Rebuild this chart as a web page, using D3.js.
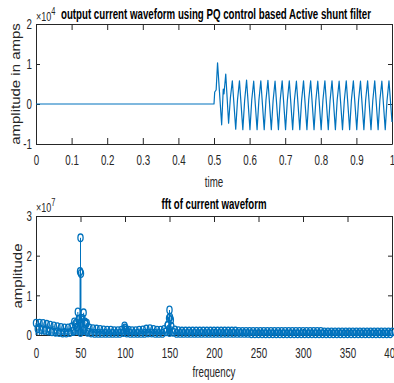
<!DOCTYPE html>
<html>
<head>
<meta charset="utf-8">
<script src="https://cdn.jsdelivr.net/npm/d3@7/dist/d3.min.js"></script>
<style>
  body { margin: 0; background: #fff; }
  text { font-family: "Liberation Sans", Arial, sans-serif; }
</style>
</head>
<body>
<div id="chart"></div>
<script>
// ---- top plot: output current (x 1e4 A) vs time ----
const waveTime = [0, 0.5, 0.502, 0.506, 0.510, 0.515, 0.5215, 0.526, 0.528, 0.533, 0.541, 0.546, 0.5515,
  0.561, 0.566, 0.5715, 0.581, 0.586, 0.5915, 0.601, 0.606, 0.6115, 0.621, 0.626, 0.6315,
  0.641, 0.646, 0.6515, 0.661, 0.666, 0.6715, 0.681, 0.686, 0.6915, 0.701, 0.706, 0.7115,
  0.721, 0.726, 0.7315, 0.741, 0.746, 0.7515, 0.761, 0.766, 0.7715, 0.781, 0.786, 0.7915,
  0.801, 0.806, 0.8115, 0.821, 0.826, 0.8315, 0.841, 0.846, 0.8515, 0.861, 0.866, 0.8715,
  0.881, 0.886, 0.8915, 0.901, 0.906, 0.9115, 0.921, 0.926, 0.9315, 0.941, 0.946, 0.9515,
  0.961, 0.966, 0.9715, 0.981, 0.986, 0.9915, 1.0];
const waveAmp = [0, 0, 0.30, 0.35, 1.03, 0.35, -0.52, 0.37, 0.25, 0.75, -0.48, 0.15, 0.58,
  -0.63, 0.10, 0.58, -0.64, 0.08, 0.60, -0.64, 0.10, 0.57, -0.64, 0.08, 0.58,
  -0.64, 0.10, 0.59, -0.64, 0.08, 0.57, -0.64, 0.10, 0.58, -0.64, 0.08, 0.58,
  -0.64, 0.10, 0.57, -0.64, 0.08, 0.58, -0.64, 0.10, 0.58, -0.64, 0.08, 0.57,
  -0.64, 0.10, 0.58, -0.64, 0.08, 0.58, -0.64, 0.10, 0.57, -0.64, 0.08, 0.58,
  -0.64, 0.10, 0.58, -0.64, 0.08, 0.57, -0.64, 0.10, 0.58, -0.64, 0.08, 0.58,
  -0.64, 0.10, 0.57, -0.64, 0.08, 0.58, -0.45];
const timeTicks = [0, 0.1, 0.2, 0.3, 0.4, 0.5, 0.6, 0.7, 0.8, 0.9, 1];
const currentTicks = [-1, 0, 1, 2];

// ---- bottom plot: fft amplitude (x 1e7) ----
const fftFreq = [0, 4, 8, 12, 16, 20, 24, 28, 32, 36,
  40, 44, 48, 52, 56, 60, 64, 68, 72, 76,
  80, 84, 88, 92, 96, 100, 104, 108, 112, 116,
  120, 124, 128, 132, 136, 140, 144, 148, 152, 156,
  160, 164, 168, 172, 176, 180, 184, 188, 192, 196,
  200, 204, 208, 212, 216, 220, 224, 228, 232, 236,
  240, 244, 248, 252, 256, 260, 264, 268, 272, 276,
  280, 284, 288, 292, 296, 300, 304, 308, 312, 316,
  320, 324, 328, 332, 336, 340, 344, 348, 352, 356,
  360, 364, 368, 372, 376, 380, 384, 388, 392, 396, 400];
const fftAmp = [0.30, 0.30, 0.29, 0.27, 0.25, 0.23, 0.21, 0.19, 0.18, 0.18,
  0.20, 0.26, 0.40, 0.42, 0.27, 0.18, 0.16, 0.15, 0.14, 0.13,
  0.12, 0.12, 0.11, 0.11, 0.12, 0.18, 0.12, 0.11, 0.11, 0.12,
  0.13, 0.15, 0.16, 0.14, 0.12, 0.12, 0.14, 0.24, 0.22, 0.13,
  0.11, 0.10, 0.10, 0.10, 0.10, 0.10, 0.10, 0.10, 0.10, 0.10,
  0.10, 0.10, 0.10, 0.10, 0.10, 0.10, 0.10, 0.09, 0.09, 0.09,
  0.09, 0.09, 0.09, 0.09, 0.09, 0.09, 0.09, 0.09, 0.09, 0.09,
  0.09, 0.09, 0.09, 0.09, 0.09, 0.09, 0.09, 0.09, 0.09, 0.09,
  0.09, 0.08, 0.08, 0.08, 0.08, 0.08, 0.08, 0.08, 0.08, 0.08,
  0.08, 0.08, 0.08, 0.08, 0.08, 0.08, 0.08, 0.08, 0.08, 0.08, 0.08];
// in-between bins (lower leakage values)
const fftMidFreq = [2, 6, 10, 14, 18, 22, 26, 30, 34, 38,
  42, 46, 50, 54, 58, 62, 66, 70, 74, 78,
  82, 86, 90, 94, 98, 102, 106, 110, 114, 118,
  122, 126, 130, 134, 138, 142, 146, 150, 154, 158,
  162, 166, 170, 174, 178, 182, 186, 190, 194, 198,
  202, 206, 210, 214, 218, 222, 226, 230, 234, 238,
  242, 246, 250, 254, 258, 262, 266, 270, 274, 278,
  282, 286, 290, 294, 298, 302, 306, 310, 314, 318,
  322, 326, 330, 334, 338, 342, 346, 350, 354, 358,
  362, 366, 370, 374, 378, 382, 386, 390, 394, 398];
const fftMidAmp = [0.16, 0.14, 0.12, 0.10, 0.08, 0.07, 0.06, 0.05, 0.05, 0.06,
  0.09, 0.20, 0.06, 0.14, 0.07, 0.05, 0.04, 0.04, 0.04, 0.04,
  0.04, 0.04, 0.04, 0.04, 0.06, 0.05, 0.04, 0.04, 0.04, 0.04,
  0.04, 0.05, 0.05, 0.04, 0.04, 0.04, 0.08, 0.06, 0.07, 0.04,
  0.04, 0.04, 0.04, 0.04, 0.04, 0.04, 0.04, 0.04, 0.04, 0.04,
  0.04, 0.04, 0.04, 0.04, 0.04, 0.04, 0.04, 0.04, 0.04, 0.04,
  0.03, 0.03, 0.03, 0.03, 0.03, 0.03, 0.03, 0.03, 0.03, 0.03,
  0.03, 0.03, 0.03, 0.03, 0.03, 0.03, 0.03, 0.03, 0.03, 0.03,
  0.03, 0.03, 0.03, 0.03, 0.03, 0.03, 0.03, 0.03, 0.03, 0.03,
  0.03, 0.03, 0.03, 0.03, 0.03, 0.03, 0.03, 0.03, 0.03, 0.03];
// harmonic peaks around 50, 100, 150 Hz
const peakFreq = [43, 45, 47, 48.5, 49.5, 50, 50.5, 51.5, 53.5, 55, 57, 99.5, 100.5, 101.5, 148, 149.5, 150, 150.5, 151.5];
const peakAmp = [0.33, 0.30, 0.58, 0.40, 1.60, 2.45, 1.55, 0.42, 0.56, 0.33, 0.30, 0.23, 0.16, 0.12, 0.25, 0.42, 0.63, 0.45, 0.38];
const freqTicks = [0, 50, 100, 150, 200, 250, 300, 350, 400];
const fftTicks = [0, 1, 2, 3];

const blue = '#0072BD';
const axisColor = '#262626';
const sx = 0.65;  // horizontal squeeze of the original figure

const svg = d3.select('#chart').append('svg')
  .attr('width', 394)
  .attr('height', 383)
  .style('background', '#fff');

function squeeze(sel, x, y, s) {
  sel.attr('transform', `translate(${x},${y}) scale(${s || sx},1)`);
}

// matlab style box with inward ticks on all four sides
function drawBox(x, y, xTicks, yTicks, padBottom) {
  const [x0, x1] = x.range();
  const [y0, y1] = y.range();

  const gb = svg.append('g')
    .attr('transform', `translate(0,${y0})`)
    .call(d3.axisBottom(x).tickValues(xTicks).tickFormat(String)
      .tickSizeInner(-6).tickSizeOuter(0).tickPadding(padBottom));
  gb.selectAll('text').attr('transform', `scale(${sx},1)`);

  svg.append('g')
    .attr('transform', `translate(0,${y1})`)
    .call(d3.axisTop(x).tickValues(xTicks).tickFormat('')
      .tickSizeInner(-6).tickSizeOuter(0));

  const gl = svg.append('g')
    .attr('transform', `translate(${x0},0)`)
    .call(d3.axisLeft(y).tickValues(yTicks).tickFormat(String)
      .tickSizeInner(-4).tickSizeOuter(0).tickPadding(4));
  gl.selectAll('text')
    .attr('x', -4 / sx)
    .attr('transform', `scale(${sx},1)`);

  svg.append('g')
    .attr('transform', `translate(${x1},0)`)
    .call(d3.axisRight(y).tickValues(yTicks).tickFormat('')
      .tickSizeInner(-4).tickSizeOuter(0));

  svg.selectAll('.domain').attr('stroke', axisColor);
  svg.selectAll('.tick line').attr('stroke', axisColor);
  svg.selectAll('.tick text')
    .attr('fill', axisColor)
    .style('font-size', '15px')
    .style('font-family', '"Liberation Sans", Arial, sans-serif');
}

function exponent(xPos, yPos, power) {
  const t = svg.append('text')
    .attr('fill', axisColor)
    .style('font-size', '12px');
  squeeze(t, xPos, yPos, 0.75);
  t.append('tspan').text('\u00d710');
  t.append('tspan')
    .attr('dy', -6)
    .style('font-size', '10px')
    .text(power);
}

// ---------- top plot ----------
const xTime = d3.scaleLinear().domain([0, 1]).range([36, 392]);
const yCur = d3.scaleLinear().domain([-1, 2]).range([144, 24]);

drawBox(xTime, yCur, timeTicks, currentTicks, 10);

const waveLine = d3.line()
  .x((d, i) => xTime(waveTime[i]))
  .y(d => yCur(d));

svg.append('path')
  .datum(waveAmp)
  .attr('d', waveLine)
  .attr('fill', 'none')
  .attr('stroke', blue)
  .attr('stroke-width', 1.2)
  .attr('stroke-linejoin', 'round');

exponent(36, 20.5, '4');

svg.append('text')
  .attr('x', 216)
  .attr('y', 19)
  .attr('text-anchor', 'middle')
  .attr('textLength', 310)
  .attr('lengthAdjust', 'spacingAndGlyphs')
  .style('font-size', '14px')
  .style('font-weight', 'bold')
  .attr('fill', '#000')
  .text('output current waveform  using PQ control based Active shunt filter');

const tl = svg.append('text')
  .attr('text-anchor', 'middle')
  .attr('fill', axisColor)
  .style('font-size', '15px')
  .text('time');
squeeze(tl, 214, 187);

svg.append('text')
  .attr('text-anchor', 'middle')
  .attr('fill', axisColor)
  .style('font-size', '15px')
  .attr('transform', 'translate(20,84) scale(0.8,1) rotate(-90)')
  .text('amplitude in amps');

// ---------- bottom plot ----------
const xFreq = d3.scaleLinear().domain([0, 400]).range([36, 392]);
const yFft = d3.scaleLinear().domain([0, 3]).range([335, 216]);

drawBox(xFreq, yFft, freqTicks, fftTicks, 12);

const fftPoints = fftFreq.map((f, i) => ({ f: f, a: fftAmp[i] }))
  .concat(fftMidFreq.map((f, i) => ({ f: f, a: fftMidAmp[i] })))
  .concat(peakFreq.map((f, i) => ({ f: f, a: peakAmp[i] })));

svg.append('g')
  .selectAll('line')
  .data(fftPoints)
  .enter().append('line')
  .attr('x1', d => xFreq(d.f))
  .attr('x2', d => xFreq(d.f))
  .attr('y1', yFft(0))
  .attr('y2', d => yFft(d.a))
  .attr('stroke', blue)
  .attr('stroke-width', 1);

svg.append('g')
  .selectAll('ellipse')
  .data(fftPoints)
  .enter().append('ellipse')
  .attr('cx', d => xFreq(d.f))
  .attr('cy', d => yFft(d.a))
  .attr('rx', 2.6)
  .attr('ry', 3.8)
  .attr('fill', 'none')
  .attr('stroke', blue)
  .attr('stroke-width', 1.3);

exponent(36, 211.5, '7');

svg.append('text')
  .attr('x', 214)
  .attr('y', 209)
  .attr('text-anchor', 'middle')
  .attr('textLength', 105)
  .attr('lengthAdjust', 'spacingAndGlyphs')
  .style('font-size', '14px')
  .style('font-weight', 'bold')
  .attr('fill', '#000')
  .text('fft of current waveform');

const fl = svg.append('text')
  .attr('text-anchor', 'middle')
  .attr('fill', axisColor)
  .style('font-size', '15px')
  .text('frequency');
squeeze(fl, 214, 377);

svg.append('text')
  .attr('text-anchor', 'middle')
  .attr('fill', axisColor)
  .style('font-size', '15px')
  .attr('transform', 'translate(22,276) scale(0.8,1) rotate(-90)')
  .text('amplitude');
</script>
</body>
</html>
